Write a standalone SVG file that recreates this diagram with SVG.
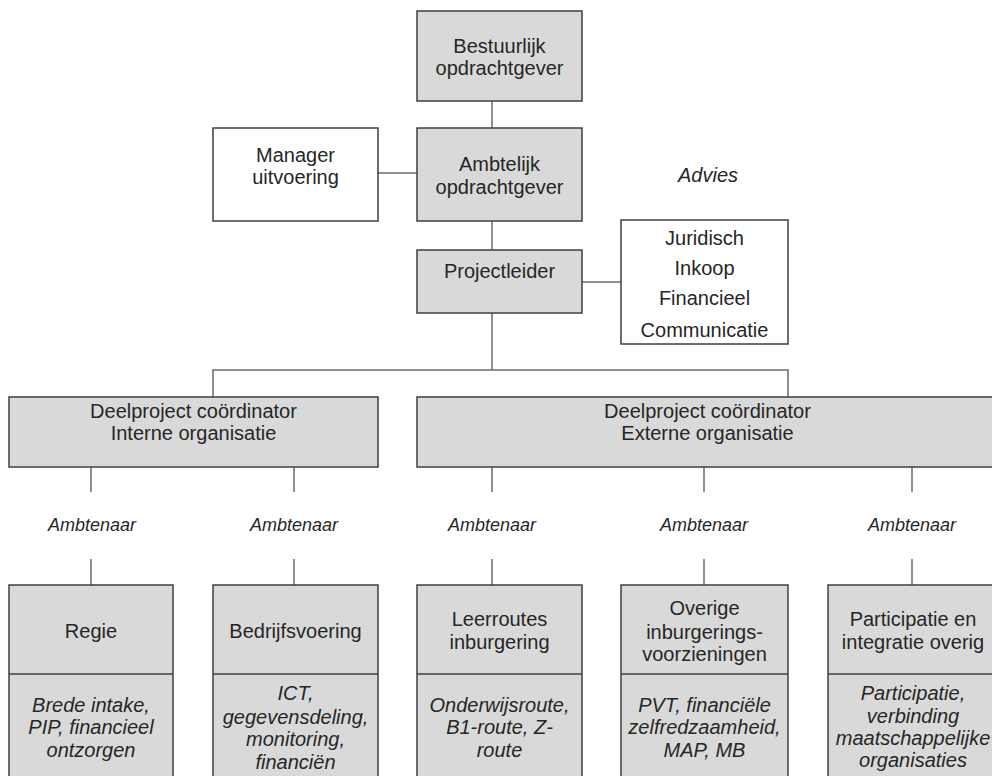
<svg xmlns="http://www.w3.org/2000/svg" width="992" height="776" viewBox="0 0 992 776">
<style>
  .box{fill:#d9d9d9;stroke:#3f3f3f;stroke-width:1.5}
  .wbox{fill:#ffffff;stroke:#3f3f3f;stroke-width:1.5}
  .ln{fill:none;stroke:#6b6b6b;stroke-width:1.5}
  text{font-family:"Liberation Sans",Arial,sans-serif;font-size:20px;fill:#262626;text-anchor:middle}
  .it{font-style:italic}
  .amb{font-style:italic;font-size:18px}
</style>
<rect width="992" height="776" fill="#ffffff"/>
<g id="connectors">
  <path class="ln" d="M492 101V128"/>
  <path class="ln" d="M378 173H417"/>
  <path class="ln" d="M492 221V250"/>
  <path class="ln" d="M582 282H621"/>
  <path class="ln" d="M492 313V370"/>
  <path class="ln" d="M213 397V370H788V397"/>
  <path class="ln" d="M91 467V492M91 559V585"/>
  <path class="ln" d="M294 467V492M294 559V585"/>
  <path class="ln" d="M492 467V492M492 559V585"/>
  <path class="ln" d="M704 467V492M704 559V585"/>
  <path class="ln" d="M912 467V492M912 559V585"/>
</g>
<g id="bestuurlijk">
  <rect class="box" x="417" y="11" width="165" height="90"/>
  <text x="499.5" y="53">Bestuurlijk</text>
  <text x="499.5" y="75">opdrachtgever</text>
</g>
<g id="manager">
  <rect class="wbox" x="213" y="128" width="165" height="93"/>
  <text x="295.5" y="162">Manager</text>
  <text x="295.5" y="184">uitvoering</text>
</g>
<g id="ambtelijk">
  <rect class="box" x="417" y="128" width="165" height="93"/>
  <text x="499.5" y="171">Ambtelijk</text>
  <text x="499.5" y="194">opdrachtgever</text>
</g>
<g id="advies-label">
  <text class="it" x="708" y="182">Advies</text>
</g>
<g id="projectleider">
  <rect class="box" x="417" y="250" width="165" height="63"/>
  <text x="499.5" y="278">Projectleider</text>
</g>
<g id="advies">
  <rect class="wbox" x="621" y="220" width="167" height="124"/>
  <text x="704.5" y="245">Juridisch</text>
  <text x="704.5" y="275">Inkoop</text>
  <text x="704.5" y="305">Financieel</text>
  <text x="704.5" y="337">Communicatie</text>
</g>
<g id="deelproject-intern">
  <rect class="box" x="9" y="397" width="369" height="70"/>
  <text x="193.5" y="418">Deelproject coördinator</text>
  <text x="193.5" y="440">Interne organisatie</text>
</g>
<g id="deelproject-extern">
  <rect class="box" x="417" y="397" width="581" height="70"/>
  <text x="707.5" y="418">Deelproject coördinator</text>
  <text x="707.5" y="440">Externe organisatie</text>
</g>
<g id="ambtenaar-labels">
  <text class="amb" x="92" y="531">Ambtenaar</text>
  <text class="amb" x="294" y="531">Ambtenaar</text>
  <text class="amb" x="492" y="531">Ambtenaar</text>
  <text class="amb" x="704" y="531">Ambtenaar</text>
  <text class="amb" x="912" y="531">Ambtenaar</text>
</g>
<g id="regie">
  <rect class="box" x="9" y="585" width="164" height="196"/>
  <path class="box" d="M9 674H173"/>
  <text x="91" y="638">Regie</text>
  <text class="it" x="91" y="712">Brede intake,</text>
  <text class="it" x="91" y="734">PIP, financieel</text>
  <text class="it" x="91" y="757">ontzorgen</text>
</g>
<g id="bedrijfsvoering">
  <rect class="box" x="213" y="585" width="165" height="196"/>
  <path class="box" d="M213 674H378"/>
  <text x="295.5" y="638">Bedrijfsvoering</text>
  <text class="it" x="295.5" y="700">ICT,</text>
  <text class="it" x="295.5" y="724">gegevensdeling,</text>
  <text class="it" x="295.5" y="746">monitoring,</text>
  <text class="it" x="295.5" y="769">financiën</text>
</g>
<g id="leerroutes">
  <rect class="box" x="417" y="585" width="165" height="196"/>
  <path class="box" d="M417 674H582"/>
  <text x="499.5" y="626">Leerroutes</text>
  <text x="499.5" y="649">inburgering</text>
  <text class="it" x="499.5" y="712">Onderwijsroute,</text>
  <text class="it" x="499.5" y="734">B1-route, Z-</text>
  <text class="it" x="499.5" y="757">route</text>
</g>
<g id="overige">
  <rect class="box" x="621" y="585" width="167" height="196"/>
  <path class="box" d="M621 674H788"/>
  <text x="704.5" y="615">Overige</text>
  <text x="704.5" y="639">inburgerings-</text>
  <text x="704.5" y="661">voorzieningen</text>
  <text class="it" x="704.5" y="712">PVT, financiële</text>
  <text class="it" x="704.5" y="734">zelfredzaamheid,</text>
  <text class="it" x="704.5" y="757">MAP, MB</text>
</g>
<g id="participatie">
  <rect class="box" x="828" y="585" width="170" height="196"/>
  <path class="box" d="M828 674H998"/>
  <text x="913" y="626">Participatie en</text>
  <text x="913" y="649">integratie overig</text>
  <text class="it" x="913" y="700">Participatie,</text>
  <text class="it" x="913" y="723">verbinding</text>
  <text class="it" x="913" y="745">maatschappelijke</text>
  <text class="it" x="913" y="767">organisaties</text>
</g>
</svg>
